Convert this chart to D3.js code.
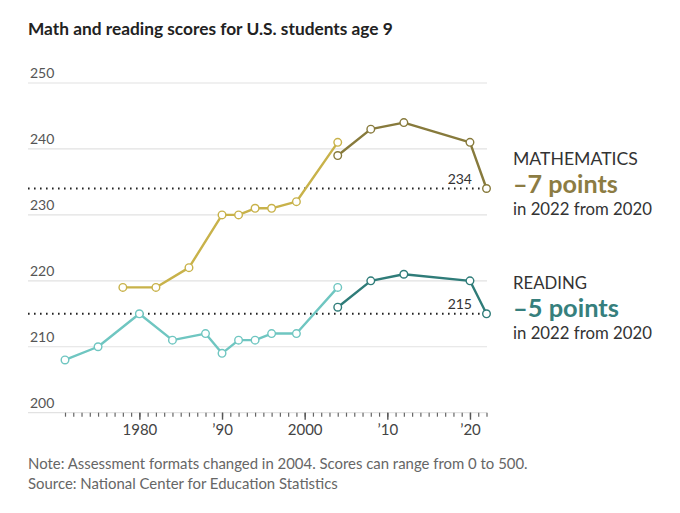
<!DOCTYPE html>
<html><head><meta charset="utf-8">
<script src="https://cdn.jsdelivr.net/npm/d3@7"></script>
<style>
body{margin:0;background:#fff;}
svg{display:block;font-family:Lato, "Noto Sans", sans-serif;}
</style></head>
<body><svg id="c" width="680" height="513"></svg>
<script>
// ---- data ----
const mathOldYears = [1978, 1982, 1986, 1990, 1992, 1994, 1996, 1999, 2004];
const mathOldScores = [219, 219, 222, 230, 230, 231, 231, 232, 241];
const mathNewYears = [2004, 2008, 2012, 2020, 2022];
const mathNewScores = [239, 243, 244, 241, 234];
const readOldYears = [1971, 1975, 1980, 1984, 1988, 1990, 1992, 1994, 1996, 1999, 2004];
const readOldScores = [208, 210, 215, 211, 212, 209, 211, 211, 212, 212, 219];
const readNewYears = [2004, 2008, 2012, 2020, 2022];
const readNewScores = [216, 220, 221, 220, 215];
const yTicks = [200, 210, 220, 230, 240, 250];
const xMajorTicks = [1980, 1990, 2000, 2010, 2020];
const xMajorLabels = ["1980", "\u201990", "2000", "\u201910", "\u201920"];
const refValues = [234, 215];
const title = "Math and reading scores for U.S. students age 9";
const notes = ["Note: Assessment formats changed in 2004. Scores can range from 0 to 500.",
               "Source: National Center for Education Statistics"];
const legendSubjects = ["MATHEMATICS", "READING"];
const legendChanges = ["\u20137 points", "\u20135 points"];
const legendSub = "in 2022 from 2020";

// ---- styles ----
const C = {mathOld:"#c8b24a", mathNew:"#877a3c", readOld:"#6fc6c1", readNew:"#2f7c79",
           mathLeg:"#8c7c43", readLeg:"#367f7d"};

const svg = d3.select("#c");
const x = d3.scaleLinear().domain([1971, 2022]).range([65, 486.5]);
const y = d3.scaleLinear().domain([200, 250]).range([412.7, 83]);
const gx0 = 28, gx1 = 487;

function fit(node, w){
  const l = node.getComputedTextLength();
  if (l > 0) { const fs = parseFloat(d3.select(node).attr("font-size")); d3.select(node).attr("font-size", fs * w / l); }
}

// title
svg.append("text").attr("x", 28).attr("y", 35).attr("font-weight", 700)
  .attr("font-size", 17).attr("fill", "#222").text(title)
  .each(function(){ fit(this, 365); });

// gridlines
svg.append("g").selectAll("line").data(yTicks).join("line")
  .attr("x1", gx0).attr("x2", gx1).attr("y1", d => y(d)).attr("y2", d => y(d))
  .attr("stroke", "#e2e2e2").attr("stroke-width", 1.2);
svg.append("g").selectAll("text").data(yTicks).join("text")
  .attr("x", 30).attr("y", d => y(d) - 5).attr("font-size", 14).attr("fill", "#555")
  .text(d => d);

// x axis ticks via d3 axis
const minor = d3.range(1971, 2023);
const axMinor = d3.axisBottom(x).tickValues(minor).tickSize(4).tickFormat("");
const gMinor = svg.append("g").attr("transform", `translate(0,${y(200)})`).call(axMinor);
gMinor.select(".domain").remove();
gMinor.selectAll("line").attr("stroke", "#666").attr("stroke-width", 1.2);
const axMajor = d3.axisBottom(x).tickValues(xMajorTicks).tickSize(7)
  .tickFormat((d, i) => xMajorLabels[i]).tickPadding(5);
const gMajor = svg.append("g").attr("transform", `translate(0,${y(200)})`).call(axMajor);
gMajor.select(".domain").remove();
gMajor.selectAll("line").attr("stroke", "#555").attr("stroke-width", 1.4);
gMajor.selectAll("text").attr("font-size", 15).attr("fill", "#444")
  .attr("font-family", "Lato, 'Noto Sans', sans-serif");

// dotted reference lines
refValues.forEach(v => {
  svg.append("line").attr("x1", gx0).attr("x2", x(2022)).attr("y1", y(v)).attr("y2", y(v))
    .attr("stroke", "#222").attr("stroke-width", 2).attr("stroke-dasharray", "1.6 4.4");
  svg.append("text").attr("x", 472).attr("y", y(v) - 5).attr("text-anchor", "end")
    .attr("font-size", 14).attr("fill", "#333").text(v);
});

// series
const line = d3.line().x(d => x(d[0])).y(d => y(d[1]));
function series(years, scores, color){
  const pts = years.map((yr, i) => [yr, scores[i]]);
  svg.append("path").datum(pts).attr("d", line).attr("fill", "none")
    .attr("stroke", color).attr("stroke-width", 2.4).attr("stroke-linejoin", "round");
  svg.append("g").selectAll("circle").data(pts).join("circle")
    .attr("cx", d => x(d[0])).attr("cy", d => y(d[1])).attr("r", 3.8)
    .attr("fill", "#fff").attr("stroke", color).attr("stroke-width", 1.4);
}
series(mathOldYears, mathOldScores, C.mathOld);
series(mathNewYears, mathNewScores, C.mathNew);
series(readOldYears, readOldScores, C.readOld);
series(readNewYears, readNewScores, C.readNew);

// legend
const legY = [165, 289];
const legC = [C.mathLeg, C.readLeg];
const subjW = [125, 74], chgW = [105, 106];
legendSubjects.forEach((s, i) => {
  svg.append("text").attr("x", 513).attr("y", legY[i]).attr("font-size", 16)
    .attr("fill", "#333").text(s).each(function(){ fit(this, subjW[i]); });
  svg.append("text").attr("x", 513).attr("y", legY[i] + 28).attr("font-size", 24)
    .attr("font-weight", 700).attr("fill", legC[i]).text(legendChanges[i])
    .each(function(){ fit(this, chgW[i]); });
  svg.append("text").attr("x", 513).attr("y", legY[i] + 50).attr("font-size", 16)
    .attr("fill", "#333").text(legendSub).each(function(){ fit(this, 139); });
});

// notes
const noteW = [500, 310];
notes.forEach((n, i) => {
  svg.append("text").attr("x", 28).attr("y", 469 + i * 20).attr("font-size", 14.5)
    .attr("fill", "#666").text(n).each(function(){ fit(this, noteW[i]); });
});
</script></body></html>
